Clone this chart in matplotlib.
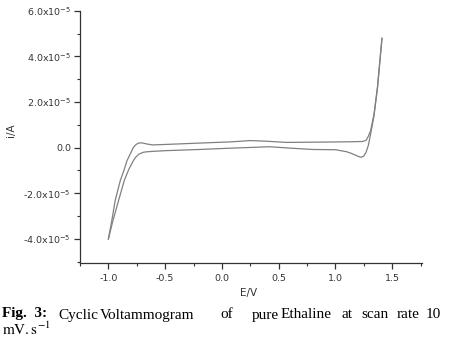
import matplotlib
matplotlib.use("Agg")
import matplotlib.pyplot as plt
from matplotlib.ticker import MultipleLocator, FixedLocator

# Forward (upper) branch: potential (V) and current (x1e-5 A)
E_up = [-1.0, -0.97, -0.94, -0.895, -0.86, -0.836, -0.80, -0.78, -0.76, -0.74, -0.72, -0.70,
        -0.66, -0.61, -0.5, -0.3, -0.1, 0.07, 0.25, 0.4, 0.57, 0.8, 1.0, 1.15, 1.24, 1.27,
        1.29, 1.31, 1.34, 1.37, 1.41]
i_up = [-4.0, -3.2, -2.31, -1.44, -0.95, -0.57, -0.2, 0.01, 0.12, 0.19, 0.21, 0.205,
        0.16, 0.12, 0.14, 0.18, 0.22, 0.25, 0.31, 0.28, 0.23, 0.24, 0.25, 0.26, 0.27, 0.32,
        0.5, 0.74, 1.47, 2.63, 4.79]

# Reverse (lower) branch
E_dn = [1.41, 1.37, 1.34, 1.31, 1.29, 1.27, 1.25, 1.225, 1.20, 1.15, 1.1, 1.0, 0.8, 0.6,
        0.42, 0.2, 0.04, -0.2, -0.49, -0.6, -0.66, -0.69, -0.73, -0.76, -0.78, -0.82, -0.86,
        -0.91, -0.96, -1.0]
i_dn = [4.79, 2.6, 1.4, 0.6, 0.1, -0.2, -0.37, -0.42, -0.38, -0.27, -0.18, -0.09, -0.08,
        -0.02, 0.04, 0.0, -0.03, -0.08, -0.13, -0.16, -0.18, -0.2, -0.28, -0.42, -0.57,
        -0.95, -1.44, -2.31, -3.2, -4.0]

xticks = [-1.0, -0.5, 0.0, 0.5, 1.0, 1.5]
xticklabels = ["-1.0", "-0.5", "0.0", "0.5", "1.0", "1.5"]
yticks = [-4e-5, -2e-5, 0.0, 2e-5, 4e-5, 6e-5]
yticklabels = [r"-4.0x10$^{-5}$", r"-2.0x10$^{-5}$", "0.0",
               r"2.0x10$^{-5}$", r"4.0x10$^{-5}$", r"6.0x10$^{-5}$"]

W, H = 454, 342
fig = plt.figure(figsize=(W / 100, H / 100), dpi=100)
ax = fig.add_axes([80 / W, 1 - 262.7 / H, (421.7 - 80) / W, (262.7 - 10.7) / H])

scale = 1e-5
ax.plot(E_up, [v * scale for v in i_up], color="#808080", lw=0.9)
ax.plot(E_dn, [v * scale for v in i_dn], color="#808080", lw=0.9)

ax.set_xlim(-1.25, 1.76)
ax.set_ylim(-5.04e-5, 6.0e-5)
for s in ("top", "right"):
    ax.spines[s].set_visible(False)
for s in ("left", "bottom"):
    ax.spines[s].set_color("#333333")
    ax.spines[s].set_linewidth(0.9)

ax.xaxis.set_major_locator(FixedLocator(xticks))
ax.set_xticklabels(xticklabels)
ax.xaxis.set_minor_locator(MultipleLocator(0.25))
ax.yaxis.set_major_locator(FixedLocator(yticks))
ax.set_yticklabels(yticklabels)
ax.yaxis.set_minor_locator(MultipleLocator(1e-5))

ax.tick_params(which="major", direction="out", length=4, width=0.9, color="#333333",
               labelsize=6.8, labelcolor="#333333", pad=2.5)
ax.tick_params(which="minor", direction="out", length=2.5, width=0.8, color="#333333")
ax.tick_params(axis="x", which="major", pad=4)

fig.text(11.5 / W, 1 - 130 / H, "i/A", rotation=90, ha="center", va="center",
         fontsize=7.5, color="#333333")
fig.text(249 / W, 1 - 293 / H, "E/V", ha="center", va="center",
         fontsize=7.5, color="#333333")

# Caption (justified, word by word)
cap_font = "Liberation Serif"
base1 = 1 - 318.5 / H
fig.text(2 / W, 1 - 306.5 / H,
         "Fig.  3:\n" + r"$\mathrm{mV{.}s}^{-1}$",
         fontsize=11, family=cap_font, fontweight="bold", va="top", ha="left",
         linespacing=1.1, math_fontfamily="stix")
words = ["Cyclic", "Voltammogram", "of", "pure", "Ethaline", "at", "scan", "rate", "10"]
wx = [58, 100, 220, 252, 281, 341, 361, 397, 426]
for w, x in zip(words, wx):
    fig.text(x / W, base1, w, fontsize=11, family=cap_font, va="baseline")

fig.savefig("out.png", dpi=100)
